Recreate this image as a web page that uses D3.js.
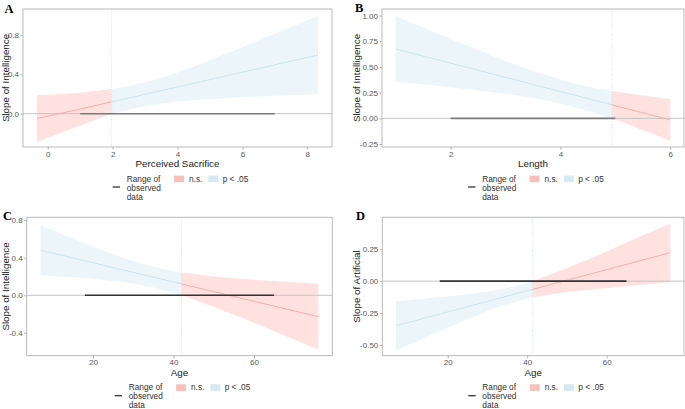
<!DOCTYPE html>
<html><head><meta charset="utf-8">
<script src="https://cdn.jsdelivr.net/npm/d3@7"></script>
<style>body{margin:0;background:#fff}svg{display:block}text{font-family:"Liberation Sans",Arial,sans-serif}</style>
</head><body><svg id="c" width="685" height="409"></svg>
<script>
// ---------- data ----------
const panelLabels = ["A", "B", "C", "D"];
const xTitles = ["Perceived Sacrifice", "Length", "Age", "Age"];
const yTitles = ["Slope of Intelligence", "Slope of Intelligence", "Slope of Intelligence", "Slope of Artificial"];
const legendRangeLines = ["Range of", "observed", "data"];
const legendNS = "n.s.";
const legendSig = "p < .05";

// Panel A
const xA   = [-0.33, 1, 1.97, 3, 4, 5, 6, 7, 8.33];
const estA = [-0.05, 0.047, 0.12, 0.197, 0.272, 0.347, 0.422, 0.497, 0.597];
const loA  = [-0.288, -0.119, 0.0, 0.075, 0.124, 0.15, 0.168, 0.182, 0.197];
const hiA  = [0.188, 0.213, 0.25, 0.319, 0.42, 0.544, 0.676, 0.812, 0.997];
const jnA = 1.97, sigAboveA = true, rangeA = [1, 7];
const xTicksA = [0, 2, 4, 6, 8];
const yTicksA = [0, 0.4, 0.8];
const yTickLabelsA = ["0.0", "0.4", "0.8"];

// Panel B
const xB   = [1, 1.5, 2, 2.5, 3, 3.5, 4, 4.5, 4.94, 5.5, 6];
const estB = [0.675, 0.606, 0.537, 0.468, 0.399, 0.33, 0.261, 0.192, 0.131, 0.054, -0.015];
const loB  = [0.355, 0.329, 0.302, 0.272, 0.239, 0.198, 0.145, 0.074, 0.0, -0.113, -0.218];
const hiB  = [0.995, 0.883, 0.772, 0.664, 0.559, 0.462, 0.377, 0.31, 0.265, 0.221, 0.188];
const jnB = 4.94, sigAboveB = false, rangeB = [2, 5];
const xTicksB = [2, 4, 6];
const yTicksB = [-0.25, 0, 0.25, 0.5, 0.75, 1];
const yTickLabelsB = ["-0.25", "0.00", "0.25", "0.50", "0.75", "1.00"];

// Panel C
const xC   = [7, 15, 25, 35, 42, 50, 60, 70, 76];
const estC = [0.48, 0.398, 0.295, 0.193, 0.121, 0.039, -0.064, -0.166, -0.228];
const loC  = [0.214, 0.191, 0.152, 0.083, 0.0, -0.122, -0.293, -0.471, -0.58];
const hiC  = [0.746, 0.605, 0.438, 0.303, 0.242, 0.2, 0.165, 0.139, 0.124];
const jnC = 42, sigAboveC = false, rangeC = [18, 65];
const xTicksC = [20, 40, 60];
const yTicksC = [-0.4, 0, 0.4, 0.8];
const yTickLabelsC = ["-0.4", "0.0", "0.4", "0.8"];

// Panel D
const xD   = [7, 15, 25, 35, 41.3, 50, 60, 70, 76];
const estD = [-0.349, -0.283, -0.2, -0.117, -0.065, 0.007, 0.09, 0.173, 0.223];
const loD  = [-0.542, -0.432, -0.298, -0.18, -0.128, -0.086, -0.053, -0.026, -0.005];
const hiD  = [-0.156, -0.134, -0.102, -0.054, 0.0, 0.1, 0.233, 0.372, 0.45];
const jnD = 41.3, sigAboveD = false, rangeD = [18, 65];
const xTicksD = [20, 40, 60];
const yTicksD = [-0.5, -0.25, 0, 0.25];
const yTickLabelsD = ["-0.50", "-0.25", "0.00", "0.25"];

// ---------- layout / style ----------
const panels = [
  {lab: 0, x: xA, est: estA, lo: loA, hi: hiA, jn: jnA, sigAbove: sigAboveA, range: rangeA,
   xt: xTicksA, yt: yTicksA, ytl: yTickLabelsA, xdom: [-0.763, 8.763], ydom: [-0.339, 1.065],
   box: [23, 9, 332, 147], labPos: [4.5, 12.5], yTitleX: 5.5, segCol: "#7d7d7d"},
  {lab: 1, x: xB, est: estB, lo: loB, hi: hiB, jn: jnB, sigAbove: sigAboveB, range: rangeB,
   xt: xTicksB, yt: yTicksB, ytl: yTickLabelsB, xdom: [0.75, 6.25], ydom: [-0.279, 1.064],
   box: [382, 9, 684, 147], labPos: [355, 11.5], yTitleX: 356, segCol: "#7d7d7d"},
  {lab: 2, x: xC, est: estC, lo: loC, hi: hiC, jn: jnC, sigAbove: sigAboveC, range: rangeC,
   xt: xTicksC, yt: yTicksC, ytl: yTickLabelsC, xdom: [3.55, 79.45], ydom: [-0.643, 0.83],
   box: [26.7, 217.3, 332.3, 355.7], labPos: [3, 219.5], yTitleX: 5.5, segCol: "#333333"},
  {lab: 3, x: xD, est: estD, lo: loD, hi: hiD, jn: jnD, sigAbove: sigAboveD, range: rangeD,
   xt: xTicksD, yt: yTicksD, ytl: yTickLabelsD, xdom: [3.55, 79.45], ydom: [-0.584, 0.5],
   box: [382.3, 217.3, 684, 355.7], labPos: [356, 219.8], yTitleX: 356, segCol: "#333333"}
];

const colNSBand = "#ffe1e0", colSigBand = "#ecf5f9";
const colNSLine = "#f5a39b", colSigLine = "#bfe0ea";
const colNSKey = "#f8c0bb", colSigKey = "#d4e9f1";

const svg = d3.select("#c");

panels.forEach(p => {
  const [x0, y0, x1, y1] = p.box;
  const xs = d3.scaleLinear().domain(p.xdom).range([x0, x1]);
  const ys = d3.scaleLinear().domain(p.ydom).range([y1, y0]);
  const g = svg.append("g");
  const pts = p.x.map((v, i) => ({x: v, est: p.est[i], lo: p.lo[i], hi: p.hi[i]}));
  const sig = pts.filter(d => p.sigAbove ? d.x >= p.jn : d.x <= p.jn);
  const ns = pts.filter(d => p.sigAbove ? d.x <= p.jn : d.x >= p.jn);

  const area = d3.area().x(d => xs(d.x)).y0(d => ys(d.lo)).y1(d => ys(d.hi)).curve(d3.curveMonotoneX);
  const line = d3.line().x(d => xs(d.x)).y(d => ys(d.est));

  g.append("path").attr("d", area(ns)).attr("fill", colNSBand);
  g.append("path").attr("d", area(sig)).attr("fill", colSigBand);

  // zero line
  g.append("line").attr("x1", x0).attr("x2", x1).attr("y1", ys(0)).attr("y2", ys(0))
    .attr("stroke", "#c4c4c4").attr("stroke-width", 1);

  g.append("path").attr("d", line(ns)).attr("fill", "none").attr("stroke", colNSLine).attr("stroke-width", 0.8);
  g.append("path").attr("d", line(sig)).attr("fill", "none").attr("stroke", colSigLine).attr("stroke-width", 0.8);

  // JN line
  g.append("line").attr("x1", xs(p.jn)).attr("x2", xs(p.jn)).attr("y1", y0).attr("y2", y1)
    .attr("stroke", "#bfe0ea").attr("stroke-width", 0.8).attr("stroke-dasharray", "1,1.5");

  // observed range
  g.append("line").attr("x1", xs(p.range[0])).attr("x2", xs(p.range[1])).attr("y1", ys(0)).attr("y2", ys(0))
    .attr("stroke", p.segCol).attr("stroke-width", 1.6);

  // border
  g.append("rect").attr("x", x0).attr("y", y0).attr("width", x1 - x0).attr("height", y1 - y0)
    .attr("fill", "none").attr("stroke", "#b3b3b3").attr("stroke-width", 0.9);

  // axes
  const xAxis = d3.axisBottom(xs).tickValues(p.xt).tickSize(2.5).tickPadding(1.5).tickFormat(d3.format("d"));
  const gx = g.append("g").attr("transform", `translate(0,${y1})`).call(xAxis);
  const yAxis = d3.axisLeft(ys).tickValues(p.yt).tickSize(2.5).tickPadding(1.5)
    .tickFormat((d, i) => p.ytl[i]);
  const gy = g.append("g").attr("transform", `translate(${x0},0)`).call(yAxis);
  [gx, gy].forEach(a => {
    a.select(".domain").remove();
    a.selectAll(".tick line").attr("stroke", "#b3b3b3");
    a.selectAll(".tick text").attr("fill", "#5a5a5a").style("font-size", "8px")
      .style("font-family", '"Liberation Sans",Arial,sans-serif');
  });

  const cx = (x0 + x1) / 2, cy = (y0 + y1) / 2;
  g.append("text").attr("x", cx).attr("y", y1 + 16.5).attr("text-anchor", "middle")
    .attr("dominant-baseline", "central").style("font-size", "9.8px").attr("fill", "#222")
    .text(xTitles[p.lab]);
  g.append("text").attr("transform", `translate(${p.yTitleX},${cy}) rotate(-90)`)
    .attr("text-anchor", "middle").attr("dominant-baseline", "central")
    .style("font-size", "9.8px").attr("fill", "#222").text(yTitles[p.lab]);

  g.append("text").attr("x", p.labPos[0]).attr("y", p.labPos[1])
    .style("font-family", '"Liberation Serif","Times New Roman",serif').style("font-weight", "bold")
    .style("font-size", "12.5px").attr("fill", "#000").text(panelLabels[p.lab]);

  // legend
  const lg = g.append("g").attr("transform", `translate(${cx},${y1})`);
  lg.append("line").attr("x1", -64.8).attr("x2", -57.5).attr("y1", 40).attr("y2", 40)
    .attr("stroke", "#333").attr("stroke-width", 1.3);
  const t = lg.append("text").style("font-size", "8.3px").attr("fill", "#333");
  legendRangeLines.forEach((s, i) => {
    t.append("tspan").attr("x", -50.8).attr("y", 31.5 + i * 9.1).attr("dominant-baseline", "central").text(s);
  });
  lg.append("rect").attr("x", -3.4).attr("y", 28.6).attr("width", 10).attr("height", 6.6).attr("fill", colNSKey);
  lg.append("text").attr("x", 11.5).attr("y", 31.5).attr("dominant-baseline", "central")
    .style("font-size", "8.3px").attr("fill", "#333").text(legendNS);
  lg.append("rect").attr("x", 30.8).attr("y", 28.6).attr("width", 10).attr("height", 6.6).attr("fill", colSigKey);
  lg.append("text").attr("x", 45.2).attr("y", 31.5).attr("dominant-baseline", "central")
    .style("font-size", "8.3px").attr("fill", "#333").text(legendSig);
});
</script></body></html>
